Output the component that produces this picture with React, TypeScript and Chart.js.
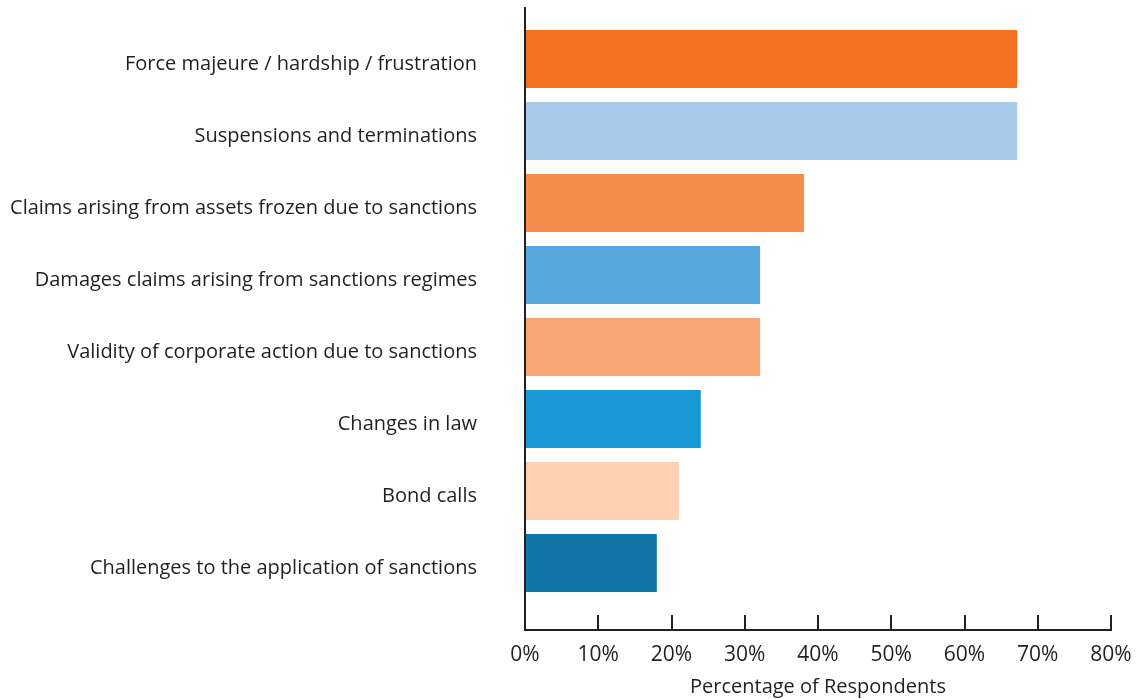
import React, { useEffect, useRef } from "react";
import { Chart, registerables } from "chart.js";

Chart.register(...registerables);

const categories: string[] = [
  "Force majeure / hardship / frustration",
  "Suspensions and terminations",
  "Claims arising from assets frozen due to sanctions",
  "Damages claims arising from sanctions regimes",
  "Validity of corporate action due to sanctions",
  "Changes in law",
  "Bond calls",
  "Challenges to the application of sanctions",
];

const values: number[] = [67.2, 67.2, 38.1, 32.1, 32.1, 24.0, 21.0, 18.0];

const barColors: string[] = [
  "#F37021",
  "#A9CCEA",
  "#F58C4B",
  "#56A7DD",
  "#F7A773",
  "#1899D6",
  "#FCD1B4",
  "#1076A8",
];

const xTicks: number[] = [0, 10, 20, 30, 40, 50, 60, 70, 80];
const xTitle = "Percentage of Respondents";

const FONT = "'Open Sans', 'Noto Sans', sans-serif";
const TEXT = "#231F20";

export default function App() {
  const ref = useRef<HTMLCanvasElement | null>(null);

  useEffect(() => {
    document.body.style.margin = "0";
    if (!ref.current) return;
    const idx = categories.map((_, i) => i);
    const chart = new Chart(ref.current, {
      type: "bar",
      data: {
        datasets: [
          {
            data: values.map((v, i) => ({ x: v, y: idx[i] })),
            backgroundColor: barColors,
            borderWidth: 0,
            barPercentage: 0.806,
            categoryPercentage: 1,
          },
        ],
      },
      options: {
        indexAxis: "y",
        animation: false,
        responsive: false,
        maintainAspectRatio: false,
        layout: { padding: { top: 8, right: 34, bottom: 0, left: 0 } },
        plugins: { legend: { display: false }, tooltip: { enabled: false } },
        scales: {
          y: {
            type: "linear",
            reverse: true,
            offset: false,
            min: -0.708,
            max: 7.93,
            afterBuildTicks: (s: any) => {
              s.ticks = idx.map((v) => ({ value: v }));
            },
            afterFit: (s: any) => {
              s.width = 525;
              s.paddingTop = 0;
              s.paddingBottom = 0;
            },
            grid: { display: false, drawTicks: false, offset: false },
            border: { display: true, color: "#231F20", width: 2 },
            ticks: {
              padding: 48,
              labelOffset: 5,
              color: TEXT,
              font: { family: FONT, size: 20 },
              callback: (v: any) => categories[v as number] ?? "",
            },
          },
          x: {
            type: "linear",
            min: 0,
            max: 80,
            afterBuildTicks: (s: any) => {
              s.ticks = xTicks.map((v) => ({ value: v }));
            },
            afterFit: (s: any) => {
              s.height = 69;
              s.paddingLeft = 0;
              s.paddingRight = 0;
            },
            grid: {
              display: true,
              drawOnChartArea: false,
              drawTicks: true,
              tickLength: -15,
              color: "#231F20",
              lineWidth: 2,
            },
            border: { display: true, color: "#231F20", width: 2 },
            ticks: {
              padding: 27,
              color: TEXT,
              font: { family: FONT, size: 21 },
              callback: (v: any) => `${v}%`,
            },
            title: {
              display: true,
              text: xTitle,
              color: TEXT,
              font: { family: FONT, size: 20 },
              padding: { top: 0, bottom: 0 },
            },
          },
        },
      },
    });
    return () => chart.destroy();
  }, []);

  return (
    <div style={{ position: "absolute", left: 0, top: 0, width: 1145, height: 699, background: "#fff" }}>
      <canvas ref={ref} width={1145} height={699} style={{ width: 1145, height: 699 }} />
    </div>
  );
}
